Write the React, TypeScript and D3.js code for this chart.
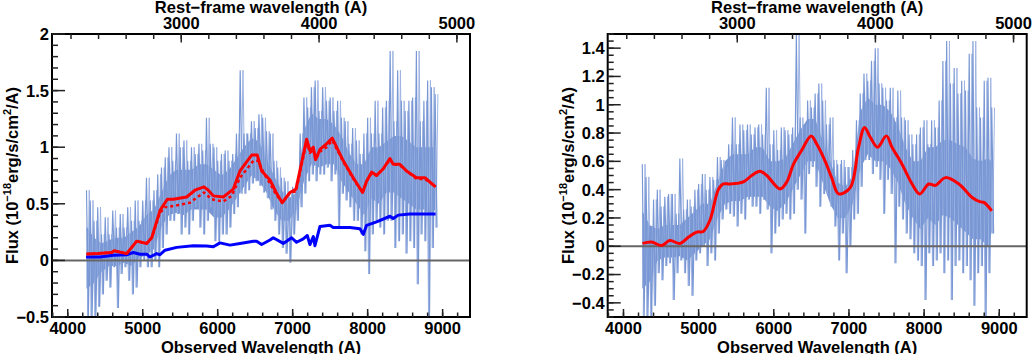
import React from "react";
import * as d3 from "d3";

// sampling grid of the observed spectrum (Angstrom)
const specGrid = d3.range(4250, 8901, 50);
// coarser grid for the dense core of the spectrum
const coreGrid = [...d3.range(4250, 8900, 100), 8900];

// left panel: observed spectrum, spike tops / bottoms in each 50 A bin
const leftHi = [
  0.62, 0.53, 0.35, 0.47, 0.23, 0.38, 0.23, 0.44, 0.29, 0.41,
  0.29, 0.47, 0.35, 0.53, 0.35, 0.53, 0.73, 0.53, 0.62, 0.76,
  0.82, 0.91, 1.0, 0.88, 1.12, 1.0, 1.06, 0.88, 1.0, 0.94,
  1.03, 0.97, 1.26, 1.03, 1.0, 0.88, 0.94, 0.97, 0.88, 0.94,
  1.12, 1.68, 1.12, 1.12, 1.23, 1.17, 1.29, 1.26, 1.14, 1.12,
  0.88, 0.82, 0.73, 0.7, 0.59, 0.65, 0.7, 1.12, 1.44, 1.35,
  1.53, 1.59, 1.32, 1.53, 1.41, 1.44, 1.32, 1.41, 1.26, 1.23,
  1.03, 1.17, 1.06, 0.94, 1.12, 1.26, 1.12, 1.41, 1.12, 1.35,
  1.41, 1.85, 1.23, 1.68, 1.41, 1.32, 1.41, 1.44, 1.85, 1.23,
  1.41, 1.59, 1.53, 1.47,
];
const leftLo = [
  -0.5, -0.5, -0.5, -0.41, -0.3, -0.18, -0.24, -0.06, -0.42, -0.12,
  -0.06, -0.18, -0.3, -0.24, -0.06, 0.0, -0.06, -0.06, 0.0, -0.06,
  0.11, 0.23, 0.35, 0.35, 0.41, 0.23, 0.29, 0.23, 0.35, 0.47,
  0.29, 0.23, 0.35, 0.47, 0.17, 0.17, 0.23, 0.23, 0.29, 0.41,
  0.47, 0.59, 0.59, 0.62, 0.68, 0.7, 0.66, 0.6, 0.55, 0.45,
  0.35, 0.23, 0.11, 0.06, -0.02, 0.23, 0.35, 0.47, 0.59, 0.7,
  0.76, 0.7, 0.76, 0.76, 0.82, 0.7, 0.76, 0.29, 0.59, 0.53,
  0.47, 0.35, 0.35, 0.23, 0.08, -0.12, 0.23, 0.35, 0.29, 0.23,
  0.35, 0.35, 0.11, 0.17, 0.23, 0.06, 0.17, 0.11, -0.21, 0.23,
  0.17, -0.5, 0.11, 0.29,
];
// left panel: edges of the dense core, every 100 A
const leftCoreHi = [
  0.3, 0.2, 0.15, 0.18, 0.2, 0.2, 0.25, 0.3, 0.4, 0.45,
  0.6, 0.75, 0.8, 0.8, 0.8, 0.85, 0.85, 0.8, 0.75, 0.8,
  0.9, 1.0, 1.08, 1.05, 0.9, 0.75, 0.62, 0.55, 0.6, 1.15,
  1.3, 1.25, 1.25, 1.2, 1.1, 0.95, 0.85, 0.85, 1.0, 1.0,
  1.05, 1.1, 1.1, 1.05, 1.0, 1.0, 1.0, 1.0,
];
const leftCoreLo = [
  -0.25, -0.2, -0.1, -0.05, -0.05, -0.02, -0.05, 0.02, 0.05, 0.1,
  0.3, 0.4, 0.42, 0.4, 0.45, 0.45, 0.45, 0.38, 0.38, 0.45,
  0.55, 0.65, 0.75, 0.7, 0.6, 0.45, 0.35, 0.35, 0.45, 0.7,
  0.85, 0.82, 0.85, 0.85, 0.7, 0.6, 0.5, 0.4, 0.55, 0.5,
  0.6, 0.6, 0.55, 0.5, 0.45, 0.45, 0.4, 0.45,
];

// left panel: total model (solid red)
const modelLam = [
  4250, 4400, 4586, 4620, 4786, 4853, 4920, 5053, 5120, 5230,
  5328, 5408, 5586, 5697, 5817, 5875, 5942, 6075, 6208, 6297,
  6386, 6453, 6528, 6586, 6697, 6780, 6861, 6964, 7044, 7186,
  7230, 7275, 7306, 7364, 7452, 7528, 7675, 7808, 7932, 7986,
  8052, 8119, 8208, 8297, 8341, 8430, 8519, 8652, 8764, 8906,
];
const modelVal = [
  0.056, 0.06, 0.07, 0.085, 0.06, 0.115, 0.17, 0.15, 0.2, 0.44,
  0.54, 0.54, 0.56, 0.62, 0.65, 0.62, 0.57, 0.56, 0.63, 0.79,
  0.87, 0.93, 0.93, 0.79, 0.71, 0.6, 0.51, 0.6, 0.63, 1.07,
  0.97, 1.0, 0.89, 0.98, 1.03, 1.08, 0.88, 0.73, 0.6, 0.7,
  0.78, 0.75, 0.81, 0.9, 0.85, 0.85, 0.79, 0.73, 0.73, 0.65,
];

// left panel: alternative model (dotted red)
const altLam = [
  4250, 4400, 4586, 4620, 4786, 4853, 4920, 5053, 5120, 5230,
  5297, 5408, 5630, 5817, 5920, 6075, 6186, 6297, 6475, 6541,
  6608, 6697, 6780, 6861, 6964, 7044, 7186, 7230, 7275, 7306,
  7364, 7452, 7528, 7675, 7808, 7932, 7986, 8052, 8119, 8208,
  8297, 8341, 8430, 8519, 8652, 8764, 8906,
];
const altVal = [
  0.056, 0.06, 0.07, 0.085, 0.06, 0.115, 0.17, 0.15, 0.2, 0.42,
  0.47, 0.48, 0.51, 0.6, 0.54, 0.52, 0.57, 0.73, 0.88, 0.88,
  0.78, 0.68, 0.58, 0.51, 0.6, 0.61, 1.05, 0.95, 0.98, 0.89,
  0.96, 1.0, 1.06, 0.87, 0.72, 0.6, 0.7, 0.77, 0.75, 0.81,
  0.89, 0.85, 0.84, 0.79, 0.72, 0.72, 0.65,
];

// left panel: host galaxy component (blue)
const hostLam = [
  4244, 4431, 4608, 4786, 4875, 4964, 5053, 5097, 5186, 5230,
  5297, 5453, 5675, 5853, 5942, 6030, 6164, 6297, 6475, 6519,
  6586, 6697, 6741, 6875, 6986, 7052, 7141, 7195, 7230, 7275,
  7297, 7364, 7497, 7541, 7764, 7897, 7941, 7986, 8119, 8297,
  8341, 8408, 8563, 8741, 8906,
];
const hostVal = [
  0.03, 0.03, 0.045, 0.05, 0.07, 0.055, 0.055, 0.03, 0.06, 0.05,
  0.09, 0.115, 0.13, 0.127, 0.12, 0.155, 0.135, 0.15, 0.17, 0.17,
  0.14, 0.18, 0.2, 0.15, 0.2, 0.16, 0.19, 0.22, 0.14, 0.21,
  0.13, 0.3, 0.31, 0.29, 0.29, 0.28, 0.23, 0.31, 0.34, 0.39,
  0.37, 0.4, 0.41, 0.41, 0.41,
];

// right panel: host-subtracted spectrum
const rightHi = [
  0.58, 0.49, 0.14, 0.33, 0.4, 0.28, 0.35, 0.37, 0.37, 0.23,
  0.62, 0.26, 0.33, 0.28, 0.4, 0.44, 0.51, 0.4, 0.49, 0.47,
  0.63, 0.61, 0.56, 0.72, 0.91, 0.72, 0.86, 0.82, 0.86, 0.79,
  0.84, 0.86, 0.79, 1.12, 0.72, 0.82, 0.68, 0.84, 0.82, 0.79,
  0.84, 1.5, 0.91, 0.86, 1.03, 0.98, 1.08, 1.15, 1.03, 0.86,
  0.91, 0.61, 0.58, 0.61, 0.56, 0.56, 0.68, 0.89, 1.08, 1.22,
  1.17, 1.31, 1.4, 1.15, 1.12, 1.03, 1.12, 0.91, 1.1, 0.91,
  0.89, 0.79, 0.72, 0.79, 0.84, 0.89, 0.72, 0.89, 0.84, 1.03,
  1.31, 1.45, 1.15, 1.26, 1.08, 1.17, 1.1, 1.36, 1.45, 0.98,
  0.91, 1.17, 1.19, 0.98,
];
const rightLo = [
  -0.5, -0.5, -0.5, -0.42, -0.19, -0.24, -0.14, -0.12, -0.38, -0.19,
  -0.1, -0.19, -0.28, -0.35, -0.1, -0.05, 0.0, -0.14, -0.05, -0.1,
  0.09, 0.19, 0.26, 0.23, 0.21, 0.14, 0.23, 0.19, 0.33, 0.28,
  0.28, 0.23, 0.33, 0.26, -0.05, 0.09, 0.14, 0.19, 0.23, 0.19,
  0.23, 0.4, 0.33, 0.09, 0.51, 0.56, 0.42, 0.28, 0.37, 0.37,
  0.28, 0.14, -0.1, 0.09, -0.19, 0.0, 0.19, 0.23, 0.42, 0.61,
  0.61, 0.51, 0.56, 0.47, 0.23, 0.47, 0.37, -0.12, 0.28, 0.19,
  0.09, 0.05, -0.05, -0.1, -0.14, -0.38, -0.05, -0.14, -0.1, -0.05,
  -0.19, -0.1, -0.38, -0.14, -0.1, -0.19, -0.14, -0.24, -0.42, -0.19,
  -0.14, -0.5, -0.19, 0.09,
];
const rightCoreHi = [
  0.25, 0.15, 0.12, 0.15, 0.15, 0.15, 0.2, 0.25, 0.3, 0.3,
  0.45, 0.6, 0.65, 0.65, 0.65, 0.7, 0.7, 0.6, 0.6, 0.62,
  0.72, 0.82, 0.9, 0.9, 0.75, 0.6, 0.45, 0.42, 0.5, 0.95,
  1.05, 1.0, 1.0, 0.95, 0.85, 0.7, 0.6, 0.6, 0.7, 0.7,
  0.75, 0.75, 0.72, 0.7, 0.62, 0.6, 0.62, 0.6,
];
const rightCoreLo = [
  -0.3, -0.25, -0.1, -0.08, -0.08, -0.07, -0.1, -0.05, 0.0, 0.05,
  0.2, 0.3, 0.32, 0.32, 0.35, 0.35, 0.35, 0.28, 0.25, 0.3,
  0.4, 0.5, 0.6, 0.6, 0.45, 0.3, 0.2, 0.2, 0.3, 0.55,
  0.65, 0.6, 0.6, 0.55, 0.45, 0.3, 0.2, 0.12, 0.2, 0.15,
  0.22, 0.2, 0.15, 0.1, 0.05, 0.05, 0.0, 0.1,
];

// right panel: smooth AGN model (red)
const agnLam = [
  4253, 4373, 4506, 4617, 4751, 4862, 4973, 5062, 5151, 5262,
  5328, 5417, 5595, 5706, 5817, 5906, 6084, 6173, 6262, 6373,
  6497, 6573, 6684, 6773, 6862, 7017, 7128, 7208, 7284, 7382,
  7497, 7573, 7706, 7840, 7942, 8062, 8151, 8284, 8462, 8640,
  8740, 8795, 8900,
];
const agnVal = [
  0.02, 0.03, 0.005, 0.04, 0.02, 0.063, 0.1, 0.105, 0.185, 0.4,
  0.44, 0.44, 0.455, 0.5, 0.53, 0.5, 0.405, 0.455, 0.58, 0.68,
  0.78, 0.72, 0.6, 0.48, 0.37, 0.415, 0.7, 0.84, 0.77, 0.7,
  0.78, 0.7, 0.58, 0.44, 0.37, 0.44, 0.43, 0.485, 0.44, 0.345,
  0.315, 0.31, 0.25,
];

const leftYTicks = [-0.5, 0, 0.5, 1, 1.5, 2];
const rightYTicks = [-0.4, -0.2, 0, 0.2, 0.4, 0.6, 0.8, 1, 1.2, 1.4];
const obsTicks = [4000, 5000, 6000, 7000, 8000, 9000];
const restTicks = [3000, 4000, 5000];
const onePlusZ = 1.838;

const FONT = "'Liberation Sans', Arial, Helvetica, sans-serif";
const SPEC = "#7897d4";
const W = 1035;
const H = 354;
const top = 34;
const bottom = 317;

function Panel({ id, x0, x1, yDomain, yTicks, yMinor, hi, lo, coreHi, coreLo, lines }: any) {
  const x = d3.scaleLinear().domain([3790, 9365]).range([x0, x1]);
  const y = d3.scaleLinear().domain(yDomain).range([bottom, top]);
  const fmt = d3.format("");
  const lineGen = d3
    .line<[number, number]>()
    .x((d) => x(d[0]))
    .y((d) => y(d[1]));

  const core = d3
    .area<number>()
    .x((l) => x(l))
    .y0((_, i) => y(coreLo[i]))
    .y1((_, i) => y(coreHi[i]))(coreGrid);

  // interleaved zigzags through the bin extremes give the spiky edges
  const zigA: [number, number][] = [];
  const zigB: [number, number][] = [];
  specGrid.forEach((l, i) => {
    zigA.push([l, hi[i]], [l + 25, lo[i]]);
    zigB.push([l + 12, lo[i]], [l + 37, hi[i]]);
  });

  const minorY = d3
    .range(Math.round(yDomain[0] / yMinor), Math.round(yDomain[1] / yMinor) + 1)
    .map((k) => k * yMinor);
  const minorX = d3.range(3800, 9300, 200);
  const minorRest = d3.range(2200, 5001, 200).map((r) => r * onePlusZ);
  const cx = (x0 + x1) / 2;

  return (
    <g>
      <defs>
        <clipPath id={id}>
          <rect x={x0} y={top} width={x1 - x0} height={bottom - top} />
        </clipPath>
      </defs>
      <g clipPath={`url(#${id})`}>
        <path d={core || ""} fill={SPEC} stroke="none" />
        <g fill="none" strokeLinejoin="miter">
          <path d={lineGen(zigB) || ""} strokeWidth={1} stroke="#9fb4e3" />
          <path d={lineGen(zigA) || ""} strokeWidth={1.15} stroke={SPEC} />
        </g>
        <line x1={x0} x2={x1} y1={y(0)} y2={y(0)} stroke="#666" strokeWidth={2} />
        {lines.map((ln: any, i: number) => {
          const pts: [number, number][] = ln.lam.map((l: number, j: number) => [l, ln.val[j]]);
          const gen = d3
            .line<[number, number]>()
            .x((d) => x(d[0]))
            .y((d) => y(d[1]))
            .curve(ln.smooth ? d3.curveCatmullRom : d3.curveLinear);
          return (
            <path
              key={i}
              d={gen(pts) || ""}
              fill="none"
              stroke={ln.color}
              strokeWidth={ln.width}
              strokeDasharray={ln.dash}
              strokeLinejoin="round"
            />
          );
        })}
      </g>

      {/* frame */}
      <rect x={x0} y={top} width={x1 - x0} height={bottom - top} fill="none" stroke="#000" strokeWidth={2} />

      {/* y ticks */}
      {minorY.map((t) => (
        <line key={`ym${t}`} x1={x0} x2={x0 + 6} y1={y(t)} y2={y(t)} stroke="#222" strokeWidth={1.5} />
      ))}
      {yTicks.map((t: number) => (
        <g key={`y${t}`}>
          <line x1={x0} x2={x0 + 13} y1={y(t)} y2={y(t)} stroke="#222" strokeWidth={1.5} />
          <text
            x={x0 - 3}
            y={y(t)}
            dy="0.36em"
            textAnchor="end"
            fontFamily={FONT}
            fontWeight="bold"
            fontSize={16.5}
          >
            {fmt(t)}
          </text>
        </g>
      ))}

      {/* bottom ticks */}
      {minorX.map((t) => (
        <line key={`xm${t}`} x1={x(t)} x2={x(t)} y1={bottom} y2={bottom - 4.5} stroke="#222" strokeWidth={1.5} />
      ))}
      {obsTicks.map((t) => (
        <g key={`x${t}`}>
          <line x1={x(t)} x2={x(t)} y1={bottom} y2={bottom - 8} stroke="#222" strokeWidth={1.5} />
          <text x={x(t)} y={333.5} textAnchor="middle" fontFamily={FONT} fontWeight="bold" fontSize={16.5}>
            {t}
          </text>
        </g>
      ))}

      {/* top (rest-frame) ticks */}
      {minorRest.map((t) => (
        <line key={`rm${t}`} x1={x(t)} x2={x(t)} y1={top} y2={top + 5} stroke="#222" strokeWidth={1.5} />
      ))}
      {restTicks.map((t) => (
        <g key={`r${t}`}>
          <line x1={x(t * onePlusZ)} x2={x(t * onePlusZ)} y1={top} y2={top + 8.5} stroke="#222" strokeWidth={1.5} />
          <text x={x(t * onePlusZ)} y={29} textAnchor="middle" fontFamily={FONT} fontWeight="bold" fontSize={16.5}>
            {t}
          </text>
        </g>
      ))}

      {/* titles */}
      <text x={cx} y={12.8} textAnchor="middle" fontFamily={FONT} fontWeight="bold" fontSize={16.5}>
        Rest−frame wavelength (A)
      </text>
      <text x={cx} y={352.5} textAnchor="middle" fontFamily={FONT} fontWeight="bold" fontSize={16.5}>
        Observed Wavelength (A)
      </text>
      <text
        transform={`translate(${x0 - 34},${(top + bottom) / 2}) rotate(-90)`}
        textAnchor="middle"
        fontFamily={FONT}
        fontWeight="bold"
        fontSize={16.5}
      >
        Flux (10
        <tspan fontSize={11} dy={-7}>
          −18
        </tspan>
        <tspan dy={7}>erg/s/cm</tspan>
        <tspan fontSize={11} dy={-7}>
          2
        </tspan>
        <tspan dy={7}>/A)</tspan>
      </text>
    </g>
  );
}

export default function App() {
  const leftLines = [
    { lam: hostLam, val: hostVal, color: "#0000ff", width: 3 },
    { lam: altLam, val: altVal, color: "#ff0000", width: 2.5, dash: "3 3" },
    { lam: modelLam, val: modelVal, color: "#ff0000", width: 3 },
  ];
  const rightLines = [{ lam: agnLam, val: agnVal, color: "#ff0000", width: 3, smooth: true }];
  return (
    <svg
      width={W}
      height={H}
      style={{ position: "absolute", left: 0, top: 0, background: "#fff" }}
    >
      <Panel
        id="clipL"
        x0={52}
        x1={470}
        yDomain={[-0.5, 2]}
        yTicks={leftYTicks}
        yMinor={0.1}
        hi={leftHi}
        lo={leftLo}
        coreHi={leftCoreHi}
        coreLo={leftCoreLo}
        lines={leftLines}
      />
      <Panel
        id="clipR"
        x0={607.7}
        x1={1026.7}
        yDomain={[-0.5, 1.5]}
        yTicks={rightYTicks}
        yMinor={0.05}
        hi={rightHi}
        lo={rightLo}
        coreHi={rightCoreHi}
        coreLo={rightCoreLo}
        lines={rightLines}
      />
    </svg>
  );
}
